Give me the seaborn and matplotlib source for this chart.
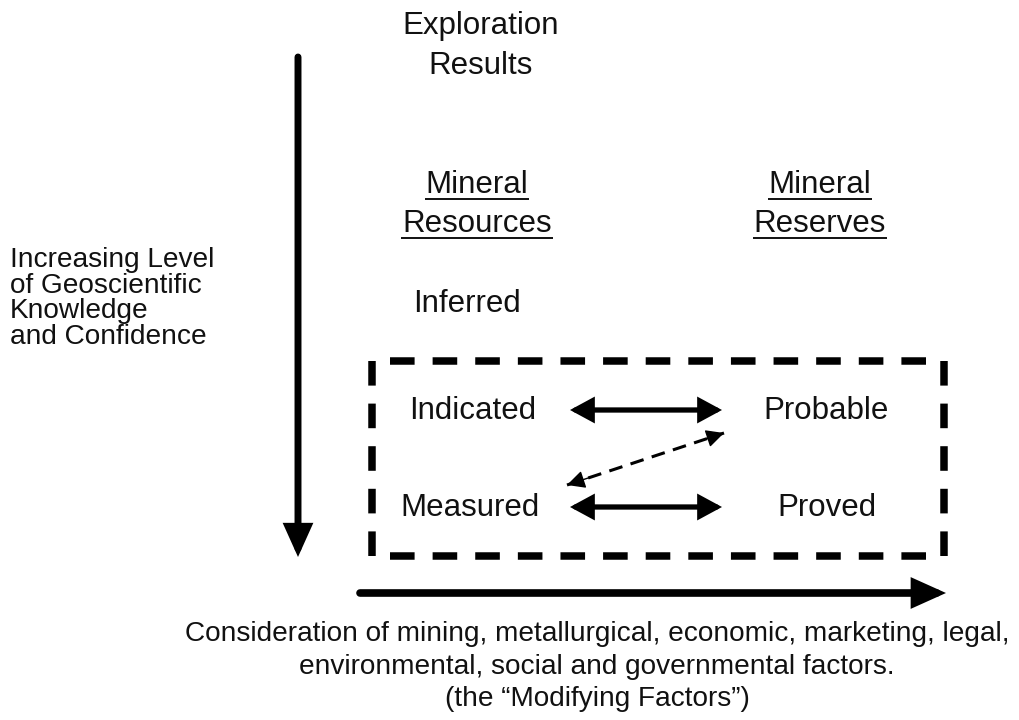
import matplotlib
matplotlib.use("Agg")
import matplotlib.pyplot as plt
import seaborn as sns
from matplotlib.patches import FancyArrowPatch

sns.set_theme(style="white")
plt.rcParams['font.family'] = ['Liberation Sans', 'DejaVu Sans']

# ---- content ----
top_label = ["Exploration", "Results"]
col_headers = [["Mineral", "Resources"], ["Mineral", "Reserves"]]
resource_cats = ["Inferred", "Indicated", "Measured"]
reserve_cats = ["Probable", "Proved"]
left_label = ["Increasing Level", "of Geoscientific", "Knowledge", "and Confidence"]
bottom_label = ["Consideration of mining, metallurgical, economic, marketing, legal,",
                "environmental, social and governmental factors.",
                "(the \u201cModifying Factors\u201d)"]

W, H = 1019, 720
fig = plt.figure(figsize=(W / 100, H / 100), dpi=100)
ax = fig.add_axes([0, 0, 1, 1])
ax.set_xlim(0, W)
ax.set_ylim(H, 0)
ax.axis("off")

PX = 0.72  # points per pixel at 100 dpi
main_fs = 22.5
small_fs = 20.2
col = "#111111"

# top label
for i, t in enumerate(top_label):
    ax.text(481, 26 + 40 * i, t, ha="center", va="center", fontsize=main_fs, color=col)

# column headers with underline
fig.canvas.draw()
renderer = fig.canvas.get_renderer()
inv = ax.transData.inverted()
for cx, hdr in zip([477, 820], col_headers):
    for i, t in enumerate(hdr):
        y = 185 + 39 * i
        txt = ax.text(cx, y, t, ha="center", va="center", fontsize=main_fs, color=col)
        bb = txt.get_window_extent(renderer=renderer)
        (x0, _), (x1, _) = inv.transform([(bb.x0, bb.y0), (bb.x1, bb.y0)])
        ax.plot([x0 - 1, x1 + 1], [y + 14, y + 14], color=col, lw=1.4, solid_capstyle="butt")

# left label
for i, t in enumerate(left_label):
    ax.text(10, 260 + 25.7 * i, t, ha="left", va="center", fontsize=small_fs, color=col)

# resource / reserve categories
ax.text(467, 304, resource_cats[0], ha="center", va="center", fontsize=main_fs, color=col)
ax.text(473, 411, resource_cats[1], ha="center", va="center", fontsize=main_fs, color=col)
ax.text(470, 508, resource_cats[2], ha="center", va="center", fontsize=main_fs, color=col)
ax.text(826, 411, reserve_cats[0], ha="center", va="center", fontsize=main_fs, color=col)
ax.text(827, 508, reserve_cats[1], ha="center", va="center", fontsize=main_fs, color=col)

# dashed box: four separate dashed sides, open corners
box_lw_px = 7.5
dash_px = 24.6


def dashed_side(p0, p1, n):
    L = abs(p1[0] - p0[0]) + abs(p1[1] - p0[1])
    gap = (L - n * dash_px) / (n - 1)
    ax.plot([p0[0], p1[0]], [p0[1], p1[1]], color="black", lw=box_lw_px * PX,
            linestyle=(0, (dash_px / box_lw_px, gap / box_lw_px)), dash_capstyle="butt")


bx0, bx1, by0, by1 = 372, 944, 361, 556
dashed_side((bx0, by0), (bx0, by1), 5)
dashed_side((bx1, by0), (bx1, by1), 5)
dashed_side((390, by0), (926, by0), 13)
dashed_side((390, by1), (926, by1), 13)

# double-headed arrows
for y in [410, 507]:
    ax.add_patch(FancyArrowPatch((570, y), (722, y), arrowstyle="<|-|>,head_length=12,head_width=6.5",
                                 mutation_scale=1, lw=3.8, color="black", shrinkA=0, shrinkB=0,
                                 joinstyle="miter"))

# dashed double arrow: dashed shaft with solid heads
p0, p1 = (567, 485), (724, 433)
ax.plot([p0[0], p1[0]], [p0[1], p1[1]], color="black", lw=2.2, linestyle=(0, (4.5, 2.8)))
dx, dy = p1[0] - p0[0], p1[1] - p0[1]
for start, end in [((p0[0] + 0.14 * dx, p0[1] + 0.14 * dy), p0),
                   ((p1[0] - 0.14 * dx, p1[1] - 0.14 * dy), p1)]:
    ax.add_patch(FancyArrowPatch(start, end, arrowstyle="-|>,head_length=11,head_width=5.5",
                                 mutation_scale=1, lw=1.0, color="black", shrinkA=0, shrinkB=0,
                                 linestyle="-"))

# big arrows
ax.add_patch(FancyArrowPatch((298, 57), (298, 557), arrowstyle="-|>,head_length=8,head_width=3.6",
                             mutation_scale=2, lw=5, color="black", shrinkA=0, shrinkB=0,
                             joinstyle="miter"))
ax.add_patch(FancyArrowPatch((360, 593), (946, 593), arrowstyle="-|>,head_length=8,head_width=3.6",
                             mutation_scale=2, lw=5.5, color="black", shrinkA=0, shrinkB=0,
                             joinstyle="miter"))

# bottom label
for i, t in enumerate(bottom_label):
    ax.text(597, 634 + 32.5 * i, t, ha="center", va="center", fontsize=small_fs, color=col)

fig.savefig("out.png", dpi=100, facecolor="white")
